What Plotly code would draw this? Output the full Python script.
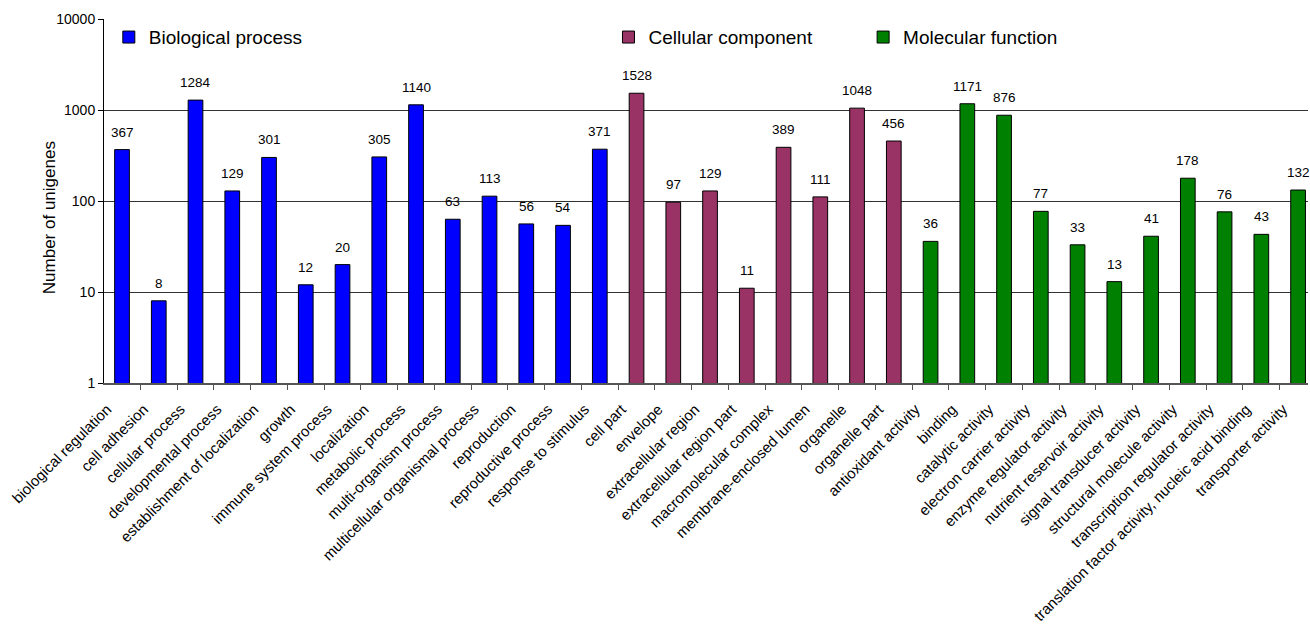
import math
import plotly.graph_objects as go

bio_cats = ["biological regulation", "cell adhesion", "cellular process", "developmental process",
            "establishment of localization", "growth", "immune system process", "localization",
            "metabolic process", "multi-organism process", "multicellular organismal process",
            "reproduction", "reproductive process", "response to stimulus"]
bio_vals = [367, 8, 1284, 129, 301, 12, 20, 305, 1140, 63, 113, 56, 54, 371]

cell_cats = ["cell part", "envelope", "extracellular region", "extracellular region part",
             "macromolecular complex", "membrane-enclosed lumen", "organelle", "organelle part"]
cell_vals = [1528, 97, 129, 11, 389, 111, 1048, 456]

mol_cats = ["antioxidant activity", "binding", "catalytic activity", "electron carrier activity",
            "enzyme regulator activity", "nutrient reservoir activity", "signal transducer activity",
            "structural molecule activity", "transcription regulator activity",
            "translation factor activity, nucleic acid binding", "transporter activity"]
mol_vals = [36, 1171, 876, 77, 33, 13, 41, 178, 76, 43, 132]

y_ticks = [1, 10, 100, 1000, 10000]

FONT = "Liberation Sans, Arial, sans-serif"

groups = [
    ("Biological process", bio_cats, bio_vals, "#0000FF", "legend", 0.004),
    ("Cellular component", cell_cats, cell_vals, "#993366", "legend2", 0.419),
    ("Molecular function", mol_cats, mol_vals, "#008000", "legend3", 0.6305),
]

fig = go.Figure()
annotations = []
for name, cats, vals, color, leg, lx in groups:
    fig.add_trace(go.Bar(
        x=cats, y=vals, name=name, legend=leg,
        marker=dict(color=color, line=dict(color="black", width=1)),
        width=0.4,
    ))
    for c, v in zip(cats, vals):
        annotations.append(dict(x=c, y=math.log10(v), yref="y", xref="x", text=str(v), showarrow=False,
                                yanchor="bottom", yshift=8,
                                font=dict(size=13.5, color="black", family=FONT)))

annotations.append(dict(x=-0.045, y=0.455, xref="paper", yref="paper", xanchor="center", yanchor="middle",
                        text="Number of unigenes", textangle=-90, showarrow=False,
                        font=dict(size=17, color="black", family=FONT)))

all_cats = bio_cats + cell_cats + mol_cats

legend_common = dict(orientation="h", yanchor="middle", y=0.95, xanchor="left",
                     bgcolor="rgba(0,0,0,0)", font=dict(size=19, family=FONT, color="black"))

fig.update_layout(
    width=1310, height=634,
    margin=dict(l=104, r=2, t=19, b=251),
    paper_bgcolor="white", plot_bgcolor="white",
    barmode="overlay",
    showlegend=True,
    font=dict(family=FONT, color="black"),
    annotations=annotations,
    legend=dict(x=groups[0][5], **legend_common),
    legend2=dict(x=groups[1][5], **legend_common),
    legend3=dict(x=groups[2][5], **legend_common),
    xaxis=dict(
        type="category", categoryorder="array", categoryarray=all_cats,
        tickangle=-45, tickfont=dict(size=15, family=FONT, color="black"),
        ticks="outside", tickson="boundaries", ticklen=5, tickcolor="#555",
        ticklabelshift=-15, ticklabelstandoff=10,
        showline=True, linecolor="#555", linewidth=1.5,
        showgrid=False, range=[-0.49, 32.27],
    ),
    yaxis=dict(
        type="log", range=[0, 4], tickvals=y_ticks, ticktext=[str(t) for t in y_ticks],
        tickfont=dict(size=14, family=FONT, color="black"),
        ticks="outside", ticklen=5, tickcolor="black",
        showline=True, linecolor="black", linewidth=1,
        showgrid=True, gridcolor="#333", gridwidth=1,
        zeroline=False,
    ),
)

fig.write_html("out.html", config={"displayModeBar": False},
               post_script="document.body.style.margin='0px';")
